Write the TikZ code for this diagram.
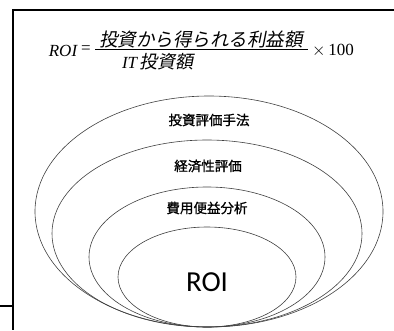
\documentclass[tikz,border=0pt]{standalone}
\usepackage{fontspec}
\setmainfont{Liberation Serif}
\newfontfamily\jpsl[FakeSlant=0.2]{Noto Sans CJK JP}
\newfontfamily\jpfont[FakeBold=1]{Noto Sans CJK JP}
\newfontfamily\calfont{Carlito}
\begin{document}
\begin{tikzpicture}[x=1pt,y=-1pt,
  frameline/.style={line width=1.4pt,black},
  ring/.style={line width=0.6pt,black!75},
  latin/.style={inner sep=0pt,font=\fontsize{17}{17}\selectfont},
  jplabel/.style={inner sep=0pt,font=\fontsize{13.5}{13.5}\selectfont\jpfont},
  bigroi/.style={inner sep=0pt,font=\fontsize{29}{29}\selectfont\calfont}]
\useasboundingbox (0,0) rectangle (394,330);
% frame
\coordinate (tl) at (13,10);
\coordinate (tr) at (394,10);
\coordinate (bl) at (13,330);
\coordinate (ml) at (0,306);
\coordinate (mr) at (13,306);
\draw[frameline] (tr) -- (tl) -- (bl);
\draw[frameline] (ml) -- (mr);
% formula
\node[latin,font=\fontsize{17}{17}\selectfont\itshape] (roi) at (63,51) {ROI};
\node[latin] (eq) at (86,50) {=};
\node[inner sep=0pt,font=\fontsize{18.5}{18.5}\selectfont\jpsl] (num) at (201,39) {投資から得られる利益額};
\node[inner sep=0pt] (den) at (158,62) {\fontsize{17}{17}\selectfont\itshape IT\,\fontsize{18}{18}\selectfont\jpsl 投資額};
\coordinate (barl) at (95,49);
\coordinate (barr) at (308,49);
\draw[line width=0.7pt] (barl) -- (barr);
\node[latin] (times) at (333,51) {$\times$\,100};
% ellipses
\draw[ring] (209,211.5) ellipse [x radius=174pt, y radius=115.5pt];
\draw[ring] (207,233.5) ellipse [x radius=155pt, y radius=93.5pt];
\draw[ring] (207,257) ellipse [x radius=118pt, y radius=70pt];
\draw[ring] (207,277) ellipse [x radius=89pt, y radius=50pt];
% labels
\node[jplabel] (l1) at (209,120) {投資評価手法};
\node[jplabel] (l2) at (208,166) {経済性評価};
\node[jplabel] (l3) at (207,208) {費用便益分析};
\node[bigroi] (l4) at (207,282) {ROI};
\end{tikzpicture}
\end{document}
